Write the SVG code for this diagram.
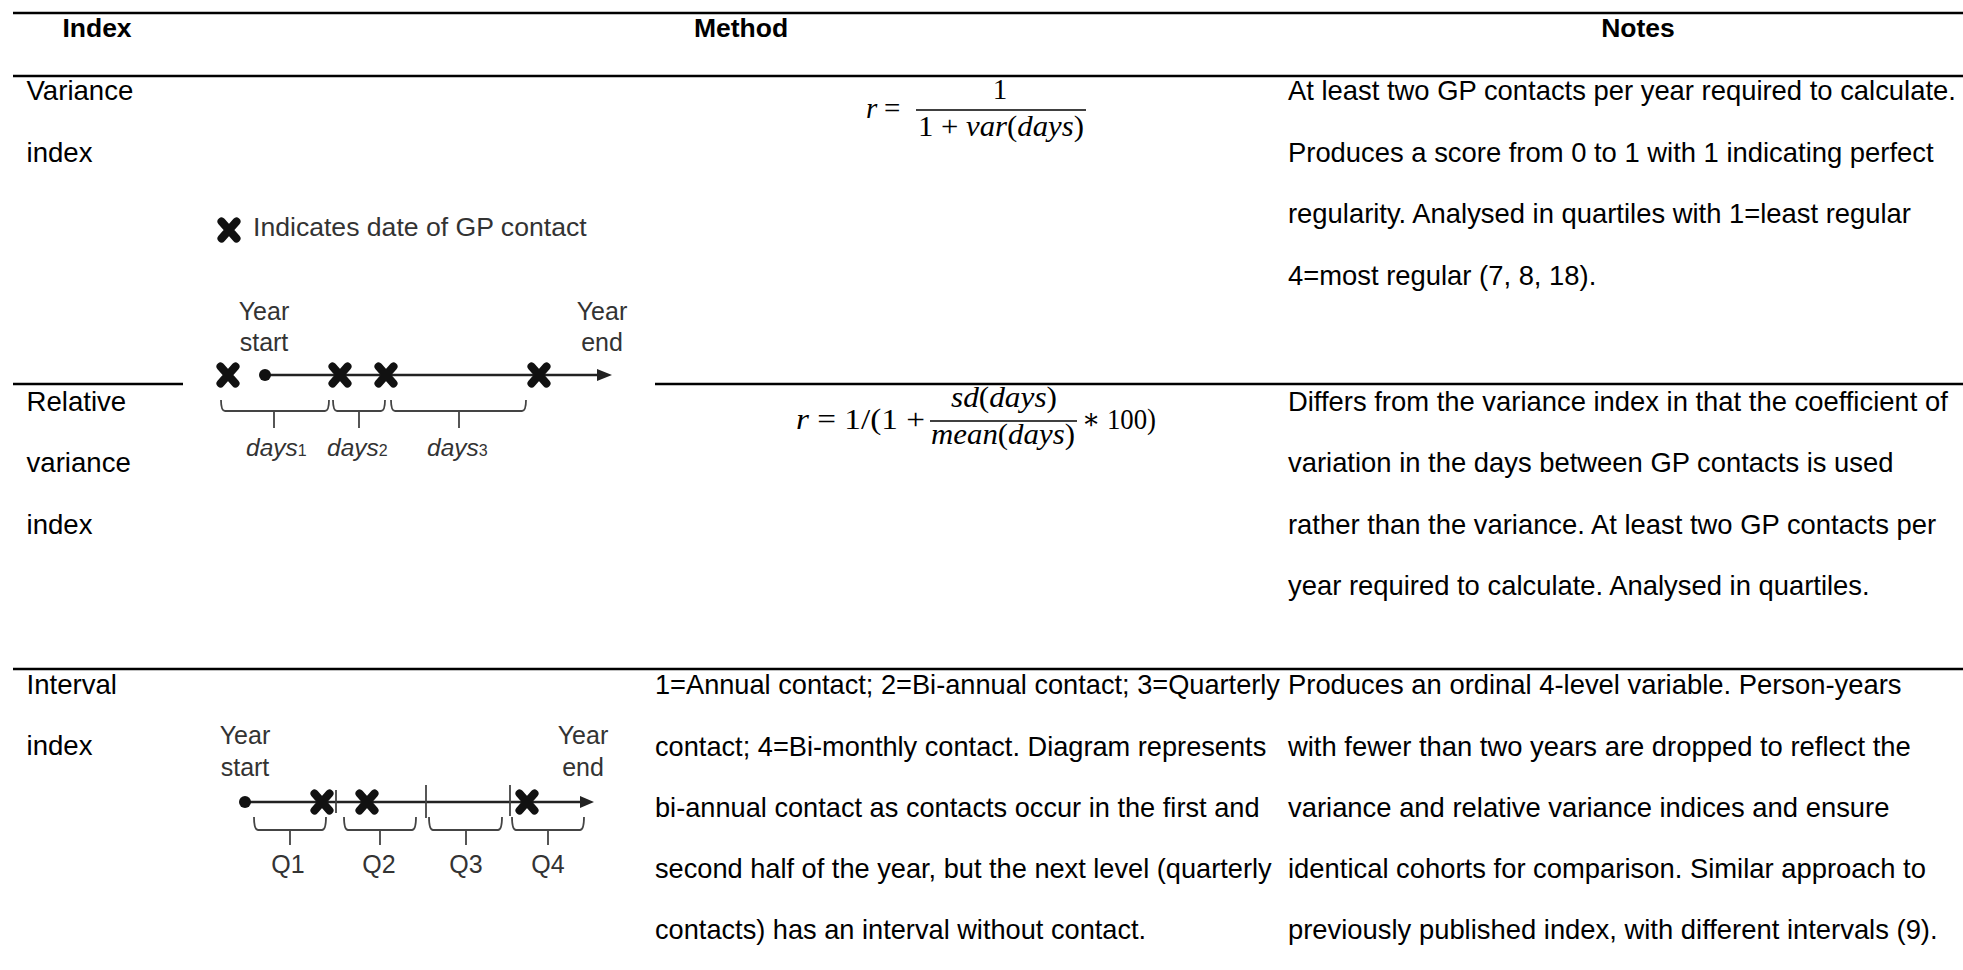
<svg xmlns="http://www.w3.org/2000/svg" xmlns:xlink="http://www.w3.org/1999/xlink" width="1963" height="970" viewBox="0 0 1963 970">
<style>
.t{font-family:"Liberation Sans",Arial,sans-serif;font-size:27.6px;fill:#000}
.tn{font-family:"Liberation Sans",Arial,sans-serif;font-size:27.4px;fill:#000}
.tm{font-family:"Liberation Sans",Arial,sans-serif;font-size:27.2px;fill:#000}
.h{font-family:"Liberation Sans",Arial,sans-serif;font-size:26.5px;font-weight:bold;fill:#000;text-anchor:middle}
.d{font-family:"Liberation Sans",Arial,sans-serif;font-size:25px;fill:#333}
.dc{font-family:"Liberation Sans",Arial,sans-serif;font-size:25px;fill:#333;text-anchor:middle}
.di{font-family:"Liberation Sans",Arial,sans-serif;font-size:24.5px;font-style:italic;fill:#333}
.sub{font-style:normal;font-size:16px}
.m{font-family:"Liberation Serif","DejaVu Serif",serif;font-size:29px;fill:#000}
.mi{font-style:italic}
.rule{stroke:#000;stroke-width:2.5;fill:none}
.tl{stroke:#222;stroke-width:2.4;fill:none}
.br{stroke:#444;stroke-width:1.8;fill:none}
.bar{stroke:#000;stroke-width:1.6}
</style>
<defs>
<g id="xm"><path d="M-7.5,-8.5 L7.5,8.5 M7.5,-8.5 L-7.5,8.5" stroke="#111" stroke-width="8" stroke-linecap="round" fill="none"/></g>
</defs>

<g id="table-rules">
<line class="rule" x1="13" y1="13" x2="1963" y2="13"/>
<line class="rule" x1="13" y1="76" x2="1963" y2="76"/>
<line class="rule" x1="13" y1="384" x2="183" y2="384"/>
<line class="rule" x1="655" y1="384" x2="1963" y2="384"/>
<line class="rule" x1="13" y1="669" x2="1963" y2="669"/>
</g>

<g id="header">
<text class="h" x="97" y="37">Index</text>
<text class="h" x="741" y="37">Method</text>
<text class="h" x="1638" y="37">Notes</text>
</g>

<g id="row-variance">
<text class="t" x="26.5" y="100">Variance</text>
<text class="t" x="26.5" y="161.5">index</text>
<g id="formula-variance">
<text class="m mi" x="866" y="118">r</text>
<text class="m" x="884" y="118">=</text>
<text class="m" x="1000" y="99" text-anchor="middle">1</text>
<line class="bar" x1="916" y1="110" x2="1086" y2="110"/>
<text class="m" x="918" y="136" textLength="166" lengthAdjust="spacingAndGlyphs">1 + <tspan class="mi">var</tspan>(<tspan class="mi">days</tspan>)</text>
</g>
<text class="tn" x="1288" y="100">At least two GP contacts per year required to calculate.</text>
<text class="tn" x="1288" y="161.5">Produces a score from 0 to 1 with 1 indicating perfect</text>
<text class="tn" x="1288" y="223">regularity. Analysed in quartiles with 1=least regular</text>
<text class="tn" x="1288" y="284.5">4=most regular (7, 8, 18).</text>
</g>

<g id="diagram-days">
<use xlink:href="#xm" href="#xm" x="229" y="230"/>
<text class="d" x="253" y="236" style="font-size:26.6px">Indicates date of GP contact</text>
<text class="dc" x="264" y="320">Year</text>
<text class="dc" x="264" y="351">start</text>
<text class="dc" x="602" y="320">Year</text>
<text class="dc" x="602" y="351">end</text>
<line class="tl" x1="265" y1="375" x2="598" y2="375"/>
<polygon points="597,369 612,375 597,381" fill="#222"/>
<circle cx="265" cy="375" r="6" fill="#111"/>
<use xlink:href="#xm" href="#xm" x="228" y="375"/>
<use xlink:href="#xm" href="#xm" x="340" y="375"/>
<use xlink:href="#xm" href="#xm" x="386" y="375"/>
<use xlink:href="#xm" href="#xm" x="539" y="375"/>
<path class="br" d="M221,400 Q221,411 225,411 H325 Q329,411 329,400 M274,411 V428"/>
<path class="br" d="M333,400 Q333,411 337,411 H381 Q385,411 385,400 M359,411 V428"/>
<path class="br" d="M391,400 Q391,411 395,411 H522 Q526,411 526,400 M459,411 V428"/>
<text class="di" x="246" y="456">days<tspan class="sub">1</tspan></text>
<text class="di" x="327" y="456">days<tspan class="sub">2</tspan></text>
<text class="di" x="427" y="456">days<tspan class="sub">3</tspan></text>
</g>

<g id="row-relative">
<text class="t" x="26.5" y="410.5">Relative</text>
<text class="t" x="26.5" y="472">variance</text>
<text class="t" x="26.5" y="533.5">index</text>
<g id="formula-relative">
<text class="m" x="796" y="429" textLength="129" lengthAdjust="spacingAndGlyphs"><tspan class="mi">r</tspan> = 1/(1 +</text>
<text class="m" x="951" y="407" textLength="106" lengthAdjust="spacingAndGlyphs"><tspan class="mi">sd</tspan>(<tspan class="mi">days</tspan>)</text>
<line class="bar" x1="930" y1="421" x2="1077" y2="421"/>
<text class="m" x="931" y="444" textLength="144" lengthAdjust="spacingAndGlyphs"><tspan class="mi">mean</tspan>(<tspan class="mi">days</tspan>)</text>
<text class="m" x="1082" y="429" textLength="74" lengthAdjust="spacingAndGlyphs">∗ 100)</text>
</g>
<text class="tn" x="1288" y="410.5">Differs from the variance index in that the coefficient of</text>
<text class="tn" x="1288" y="472">variation in the days between GP contacts is used</text>
<text class="tn" x="1288" y="533.5">rather than the variance. At least two GP contacts per</text>
<text class="tn" x="1288" y="595">year required to calculate. Analysed in quartiles.</text>
</g>

<g id="row-interval">
<text class="t" x="26.5" y="694">Interval</text>
<text class="t" x="26.5" y="755">index</text>
<text class="tm" x="655" y="694">1=Annual contact; 2=Bi-annual contact; 3=Quarterly</text>
<text class="tm" x="655" y="755.5">contact; 4=Bi-monthly contact. Diagram represents</text>
<text class="tm" x="655" y="817">bi-annual contact as contacts occur in the first and</text>
<text class="tm" x="655" y="878">second half of the year, but the next level (quarterly</text>
<text class="tm" x="655" y="939">contacts) has an interval without contact.</text>
<text class="tn" x="1288" y="694">Produces an ordinal 4-level variable. Person-years</text>
<text class="tn" x="1288" y="755.5">with fewer than two years are dropped to reflect the</text>
<text class="tn" x="1288" y="817">variance and relative variance indices and ensure</text>
<text class="tn" x="1288" y="878">identical cohorts for comparison. Similar approach to</text>
<text class="tn" x="1288" y="939">previously published index, with different intervals (9).</text>
</g>

<g id="diagram-quarters">
<text class="dc" x="245" y="744">Year</text>
<text class="dc" x="245" y="776">start</text>
<text class="dc" x="583" y="744">Year</text>
<text class="dc" x="583" y="776">end</text>
<line class="tl" x1="245" y1="802" x2="581" y2="802"/>
<polygon points="580,796 594,802 580,808" fill="#222"/>
<circle cx="245" cy="802" r="6" fill="#111"/>
<line class="br" x1="336" y1="790" x2="336" y2="813"/>
<line class="br" x1="426" y1="785" x2="426" y2="818"/>
<line class="br" x1="510" y1="785" x2="510" y2="816"/>
<use xlink:href="#xm" href="#xm" x="322" y="802"/>
<use xlink:href="#xm" href="#xm" x="367" y="802"/>
<use xlink:href="#xm" href="#xm" x="527" y="802"/>
<path class="br" d="M254,817 Q254,830 258,830 H322 Q326,830 326,817 M290,830 V845"/>
<path class="br" d="M344,817 Q344,830 348,830 H412 Q416,830 416,817 M380,830 V845"/>
<path class="br" d="M429,817 Q429,830 433,830 H498 Q502,830 502,817 M466,830 V845"/>
<path class="br" d="M512,817 Q512,830 516,830 H580 Q584,830 584,817 M548,830 V845"/>
<text class="dc" x="288" y="873">Q1</text>
<text class="dc" x="379" y="873">Q2</text>
<text class="dc" x="466" y="873">Q3</text>
<text class="dc" x="548" y="873">Q4</text>
</g>
</svg>
